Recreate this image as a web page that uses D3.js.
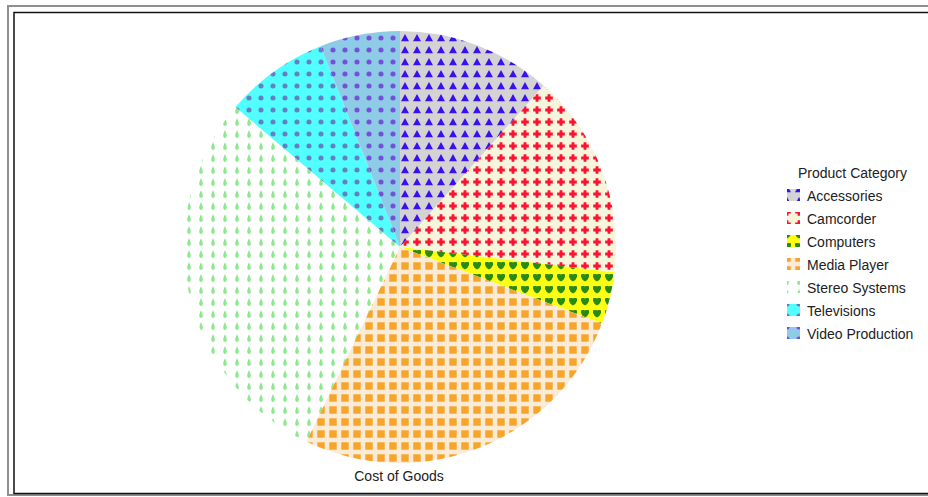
<!DOCTYPE html>
<html>
<head>
<meta charset="utf-8">
<script src="https://cdn.jsdelivr.net/npm/d3@7"></script>
<style>
html,body{margin:0;padding:0;background:#fff;}
svg{display:block;}
text{font-family:"Liberation Sans",Arial,sans-serif;}
</style>
</head>
<body>
<div id="chart"></div>
<script>
// ---- data ----
const categories = ["Accessories","Camcorder","Computers","Media Player","Stereo Systems","Televisions","Video Production"];
const costOfGoods = [11.6, 15.3, 3.9, 26.4, 29.1, 7.8, 6.0];
const chartTitle = "Cost of Goods";
const legendTitle = "Product Category";
// pattern styling per category
const bgColors   = ["#d3d3d3","#f5f5dc","#ffff14","#faebd7","#ffffff","#52ffff","#8ecbe6"];
const markColors = ["#3a10f0","#ff1030","#2a8a14","#f7a42a","#8ee88e","#6480c0","#7350d8"];
const markShapes = ["triangle","cross","heart","square","drop","dot","dot"];

const W = 928, H = 497;
const svg = d3.select("#chart").append("svg").attr("width", W).attr("height", H);

// frame
svg.append("rect").attr("x",8).attr("y",6).attr("width",960).attr("height",489)
  .attr("fill","none").attr("stroke","#8f8f8f").attr("stroke-width",2);
svg.append("rect").attr("x",14).attr("y",12.5).attr("width",950).attr("height",481)
  .attr("fill","none").attr("stroke","#111").attr("stroke-width",1.5);

const shapePaths = {
  triangle: "M6,1.9 L10,9.2 L2,9.2 Z",
  cross: "M4.6,2.2 H7.4 V4.6 H9.8 V7.4 H7.4 V9.8 H4.6 V7.4 H2.2 V4.6 H4.6 Z",
  heart: "M2,3 Q2,2 3,2 L5,2 Q6,2 6,3 Q6,2 7,2 L9,2 Q10,2 10,3 L10,5 Q9,8 6,9.5 Q3,8 2,5 Z",
  square: "M2.3,2.3 H9.7 V9.7 H2.3 Z",
  drop: "M6,2 Q7.9,6 7.8,8 Q7.6,10 6,10 Q4.4,10 4.2,8 Q4.1,6 6,2 Z",
  dot: "M6,3.4 A2.6,2.6 0 1 1 5.99,3.4 Z"
};

const defs = svg.append("defs");
function makePattern(id, i, x, y){
  const p = defs.append("pattern").attr("id",id)
    .attr("patternUnits","userSpaceOnUse")
    .attr("x",x).attr("y",y).attr("width",12).attr("height",12);
  p.append("rect").attr("width",12).attr("height",12).attr("fill",bgColors[i]);
  p.append("path").attr("d",shapePaths[markShapes[i]]).attr("fill",markColors[i]);
}
categories.forEach((c,i)=>{
  makePattern("pat"+i, i, -1, 1);
  makePattern("leg"+i, i, -1, -18);
});

// pie
const cx = 400, cy = 247, r = 216;
const pie = d3.pie().sort(null).value(d=>d.v).startAngle(0).endAngle(2*Math.PI);
const arc = d3.arc().innerRadius(0).outerRadius(r);
const data = categories.map((c,i)=>({c, v:costOfGoods[i], i}));
const g = svg.append("g").attr("transform",`translate(${cx},${cy})`);
g.selectAll("path").data(pie(data)).join("path")
  .attr("d",arc).attr("fill",d=>`url(#pat${d.data.i})`);

svg.append("text").attr("x",399).attr("y",481).attr("text-anchor","middle")
  .attr("font-size",14).attr("fill","#222").text(chartTitle);

// legend
const lg = svg.append("g").attr("transform","translate(782,171)");
lg.append("text").attr("x",16).attr("y",7).attr("font-size",14).attr("fill","#222").text(legendTitle);
const item = lg.selectAll("g.item").data(categories).join("g").attr("class","item")
  .attr("transform",(d,i)=>`translate(0,${30 + i*23})`);
item.append("rect").attr("x",5).attr("y",-12).attr("width",13).attr("height",12)
  .attr("fill",(d,i)=>`url(#leg${i})`);
item.append("text").attr("x",25).attr("y",0).attr("font-size",14).attr("fill","#222").text(d=>d);
</script>
</body>
</html>
